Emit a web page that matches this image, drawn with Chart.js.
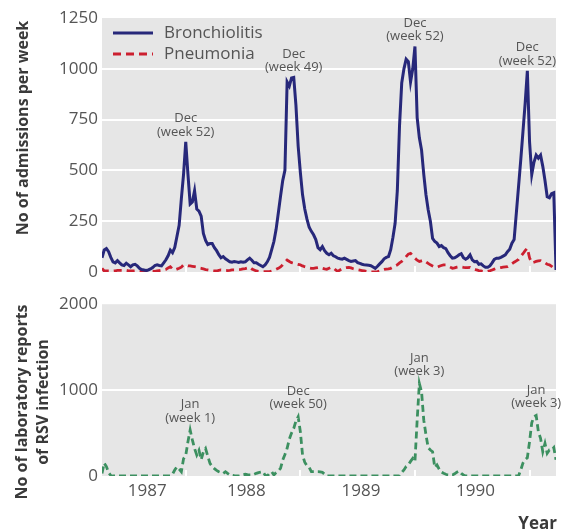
<!DOCTYPE html>
<html>
<head>
<meta charset="utf-8">
<script src="https://cdn.jsdelivr.net/npm/chart.js@4.4.0/dist/chart.umd.min.js"></script>
<style>
  body { margin: 0; background: #fff; }
  #wrap { position: relative; width: 568px; height: 532px; font-family: "Open Sans", sans-serif; }
  #wrap canvas { position: absolute; left: 0; }
  .ytitle {
    position: absolute; font-weight: bold; font-size: 16px; color: #3a3a3a;
    white-space: nowrap; text-align: center; line-height: 21px;
    transform: translate(-50%, -50%) rotate(-90deg);
  }
  #xtitle { position: absolute; right: 11px; top: 511px; font-weight: bold; font-size: 17px; color: #3a3a3a; }
</style>
</head>
<body>
<div id="wrap">
  <canvas id="topChart" width="568" height="290" style="top:0"></canvas>
  <canvas id="rsvChart" width="568" height="242" style="top:290px"></canvas>
  <div class="ytitle" style="left:22px; top:128px">No of admissions per week</div>
  <div class="ytitle" style="left:32px; top:402px">No of laboratory reports<br>of RSV infection</div>
  <div id="xtitle">Year</div>
</div>
<script>
// weekly series, week 0 = April 1986 ... week 206 = March 1990
const bronchiolitis = [
  70,108,115,100,72,50,45,56,45,35,
  32,43,35,26,35,38,30,18,12,10,
  8,10,15,22,32,35,32,30,45,60,
  80,108,95,120,175,230,360,480,640,480,
  335,345,400,310,300,275,190,155,135,140,
  140,120,105,85,70,76,65,58,50,48,
  52,50,47,50,48,50,60,68,58,45,
  45,38,32,26,35,50,72,110,150,210,
  290,372,450,500,935,915,955,958,820,620,
  490,380,310,260,220,200,183,160,120,110,
  125,105,92,85,92,80,75,68,65,63,
  68,62,56,52,54,56,46,42,38,35,
  34,33,31,25,18,28,40,51,65,72,
  76,110,170,240,400,720,930,1000,1047,1035,
  935,1000,1110,760,660,600,480,380,306,250,
  165,150,142,125,130,120,115,95,80,68,
  70,76,85,90,70,63,70,84,60,51,
  52,38,40,30,23,23,30,45,62,68,
  68,72,78,84,100,112,142,160,290,420,
  550,690,830,990,640,480,540,575,560,575,
  520,450,370,365,385,390,10
];
const pneumonia = [
  18,5,5,6,6,5,6,8,8,8,
  8,8,6,5,5,6,5,4,3,3,
  4,5,5,4,3,5,7,9,11,13,
  20,26,15,10,14,18,24,35,33,30,
  30,28,26,24,20,18,15,12,10,8,
  6,5,5,8,10,9,8,7,8,10,
  10,11,12,13,15,17,20,24,15,10,
  5,3,2,2,2,2,2,5,9,13,
  18,25,35,48,59,52,46,43,40,37,
  35,30,26,23,20,18,18,20,22,23,
  18,15,13,18,23,20,10,3,10,16,
  20,22,23,20,16,13,11,9,7,5,
  3,1,0,0,1,2,5,10,13,14,
  15,18,24,30,35,45,52,62,76,88,
  92,80,68,58,52,55,58,50,42,35,
  30,25,23,28,32,35,35,30,24,18,
  20,24,26,25,23,22,22,23,18,14,
  10,7,5,3,2,3,6,10,14,18,
  20,22,24,25,26,32,40,48,55,62,
  76,90,105,117,70,45,48,52,55,56,
  50,45,38,35,28,18,8
];
const rsvReports = [
  30,150,110,40,5,0,0,0,0,0,
  0,0,0,0,0,0,0,0,0,0,
  0,0,0,0,0,0,0,0,0,0,
  0,0,20,70,108,80,50,200,240,400,
  535,420,320,244,300,190,280,320,230,147,
  110,85,65,50,40,31,50,30,12,10,
  5,2,0,5,15,20,15,12,12,20,
  31,40,45,50,10,0,30,50,12,40,
  60,89,186,250,322,430,500,554,640,690,
  516,244,160,120,100,50,50,50,50,48,
  43,20,0,0,0,0,0,0,0,0,
  0,0,0,0,0,0,0,0,0,0,
  0,0,0,0,0,0,0,0,0,0,
  0,0,0,0,0,0,40,70,110,128,
  170,205,170,650,1078,980,650,480,330,302,
  283,100,128,80,45,31,20,12,12,12,
  25,45,58,30,12,0,0,0,0,0,
  0,0,0,0,0,0,0,0,0,0,
  0,0,0,0,0,0,0,0,0,0,
  70,150,190,213,400,620,690,705,516,438,
  283,380,264,302,300,330,190
];

const yearLabels = ['1987', '1988', '1989', '1990'];
const yearLabelWeeks = [20.5, 65.5, 117.5, 169.5];
const newYearWeeks = [38, 90, 142, 194];

const admissionNotes = [
  { week: 38, lines: ['Dec', '(week 52)'] },
  { week: 87, lines: ['Dec', '(week 49)'] },
  { week: 142, lines: ['Dec', '(week 52)'] },
  { week: 193, lines: ['Dec', '(week 52)'] }
];
const rsvNotes = [
  { week: 40, lines: ['Jan', '(week 1)'] },
  { week: 89, lines: ['Dec', '(week 50)'] },
  { week: 144, lines: ['Jan', '(week 3)'] },
  { week: 197, lines: ['Jan', '(week 3)'] }
];

const toPoints = arr => arr.map((v, i) => ({ x: i, y: v }));

Chart.defaults.font.family = '"Open Sans", sans-serif';
Chart.defaults.color = '#555';

const panelBg = {
  id: 'panelBg',
  beforeDraw(chart) {
    const { ctx, chartArea: a } = chart;
    ctx.save();
    ctx.fillStyle = '#e6e6e6';
    ctx.fillRect(a.left, a.top, a.right - a.left, a.bottom - a.top);
    ctx.restore();
  }
};

const yearMarks = {
  id: 'yearMarks',
  beforeDatasetsDraw(chart) {
    const { ctx, chartArea: a, scales } = chart;
    ctx.save();
    ctx.strokeStyle = '#fff';
    ctx.lineWidth = 2;
    newYearWeeks.forEach(w => {
      const px = Math.round(scales.x.getPixelForValue(w));
      ctx.beginPath();
      ctx.moveTo(px, a.bottom);
      ctx.lineTo(px, a.bottom - 6);
      ctx.stroke();
    });
    ctx.restore();
  }
};

const peakNotes = {
  id: 'peakNotes',
  afterDatasetsDraw(chart, args, opts) {
    const { ctx, scales } = chart;
    const data = chart.data.datasets[0].data;
    ctx.save();
    ctx.font = '13px "Open Sans"';
    ctx.fillStyle = '#555';
    ctx.textAlign = 'center';
    ctx.textBaseline = 'middle';
    (opts.notes || []).forEach(n => {
      const px = scales.x.getPixelForValue(n.week);
      const py = scales.y.getPixelForValue(data[n.week].y);
      ctx.fillText(n.lines[1], px, py - opts.gap);
      ctx.fillText(n.lines[0], px, py - opts.gap - 13.5);
    });
    ctx.restore();
  }
};

const insideLegend = {
  id: 'insideLegend',
  afterDraw(chart, args, opts) {
    if (!opts.show) return;
    const { ctx, chartArea: a } = chart;
    ctx.save();
    chart.data.datasets.forEach((ds, i) => {
      const yy = a.top + 15 + i * 21;
      ctx.strokeStyle = ds.borderColor;
      ctx.lineWidth = 3;
      ctx.setLineDash(ds.borderDash || []);
      ctx.beginPath();
      ctx.moveTo(a.left + 11, yy);
      ctx.lineTo(a.left + 51, yy);
      ctx.stroke();
      ctx.setLineDash([]);
      ctx.font = '17px "Open Sans"';
      ctx.fillStyle = '#555';
      ctx.textBaseline = 'middle';
      ctx.fillText(ds.label, a.left + 62, yy);
    });
    ctx.restore();
  }
};

function yScale(max, step) {
  return {
    min: 0, max: max,
    ticks: { stepSize: step, padding: 4, color: '#555', font: { size: 17 }, callback: v => String(v) },
    grid: {
      color: c => (c.tick && c.tick.value > 0 && c.tick.value < max) ? '#ffffff' : 'rgba(0,0,0,0)',
      lineWidth: 2, drawTicks: false
    },
    border: { display: false },
    afterFit: s => { s.width = 102; }
  };
}

new Chart(document.getElementById('topChart'), {
  type: 'line',
  data: {
    datasets: [
      { label: 'Bronchiolitis', data: toPoints(bronchiolitis), borderColor: '#27287a', borderWidth: 3, pointRadius: 0, tension: 0 },
      { label: 'Pneumonia', data: toPoints(pneumonia), borderColor: '#cc1f2f', borderWidth: 2.8, borderDash: [8, 5], pointRadius: 0, tension: 0 }
    ]
  },
  options: {
    responsive: false,
    animation: false,
    layout: { padding: { top: 18, right: 12, bottom: 18, left: 0 } },
    scales: {
      x: { type: 'linear', min: 0, max: 206, display: false },
      y: yScale(1250, 250)
    },
    plugins: {
      legend: { display: false },
      tooltip: { enabled: false },
      insideLegend: { show: true },
      peakNotes: { notes: admissionNotes, gap: 10 }
    }
  },
  plugins: [panelBg, yearMarks, peakNotes, insideLegend]
});

new Chart(document.getElementById('rsvChart'), {
  type: 'line',
  data: {
    datasets: [
      { label: 'Laboratory reports of RSV', data: toPoints(rsvReports), borderColor: '#3c9060', borderWidth: 2.8, borderDash: [7, 4], pointRadius: 0, tension: 0 }
    ]
  },
  options: {
    responsive: false,
    animation: false,
    layout: { padding: { top: 14, right: 12, bottom: 0, left: 0 } },
    scales: {
      x: {
        type: 'linear', min: 0, max: 206,
        grid: { display: false, drawTicks: false },
        border: { display: false },
        afterBuildTicks: s => { s.ticks = yearLabelWeeks.map(v => ({ value: v })); },
        ticks: {
          autoSkip: false, maxRotation: 0, padding: 5, color: '#555', font: { size: 17 },
          callback: (v, i) => yearLabels[i]
        },
        afterFit: s => { s.height = 56; }
      },
      y: yScale(2000, 1000)
    },
    plugins: {
      legend: { display: false },
      tooltip: { enabled: false },
      insideLegend: { show: false },
      peakNotes: { notes: rsvNotes, gap: 12 }
    }
  },
  plugins: [panelBg, yearMarks, peakNotes, insideLegend]
});
</script>
</body>
</html>
